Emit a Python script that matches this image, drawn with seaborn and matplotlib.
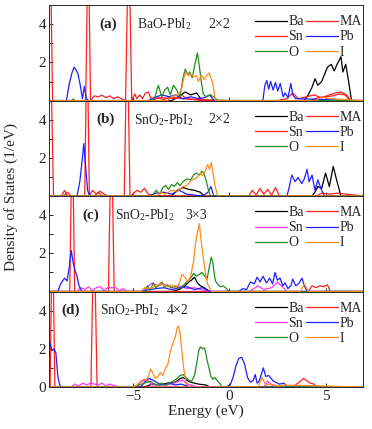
import matplotlib
matplotlib.use("Agg")
import matplotlib.pyplot as plt
import seaborn as sns

# ---- panel (a) BaO-PbI2 2x2 ----
a_ba_x = [-9.4, -3.0, -2.6, -2.3, -2.0, -1.7, -1.4, 3.9, 4.1, 4.3, 4.46, 4.6, 4.8, 5.0, 5.1, 5.3, 5.45, 5.6, 5.8, 5.9, 6.05, 6.2, 6.35, 7.0]
a_ba_y = [0, 0, 0.2, 0.45, 0.3, 0.4, 0, 0, 0.3, 0.7, 1.15, 0.8, 1.0, 1.5, 1.75, 1.9, 1.55, 1.9, 2.3, 1.5, 1.9, 1.0, 0, 0]
a_ma_x = [-9.4, -9.3, -9.17, -7.45, -7.32, -7.2, -7.0, -6.8, -6.6, -6.4, -6.2, -6.0, -5.8, -5.6, -5.38, -5.22, -5.06, -4.9, -4.8, -4.65, -4.5, -4.35, -4.2, -4.05, -3.5, -2.8, -2.5, -2.2, -1.5, 2.5, 3.0, 3.3, 3.6, 4.0, 4.4, 4.8, 5.2, 5.5, 5.8, 6.1, 6.3, 7.0]
a_ma_y = [9, 9, 0, 0, 9, 0, 0.25, 0.2, 0.28, 0.15, 0.25, 0.1, 0.2, 0.1, 0, 9, 0, 0.35, 0.1, 0.3, 0.1, 0.4, 0.45, 0.1, 0.15, 0.1, 0.3, 0.1, 0, 0, 0.1, 0.4, 0.1, 0.2, 0.3, 0.15, 0.3, 0.4, 0.45, 0.3, 0, 0]
a_sn_x = [-9.4, -4.0, -3.7, -3.4, -3.0, -2.5, 0, 4.2, 4.6, 5.0, 5.4, 5.7, 6.0, 6.3, 7.0]
a_sn_y = [0, 0, 0.15, 0.05, 0.2, 0.1, 0, 0, 0.15, 0.2, 0.25, 0.35, 0.3, 0, 0]
a_pb_x = [-9.4, -8.45, -8.3, -8.15, -8.05, -7.95, -7.85, -7.75, -7.62, -7.52, -7.42, -7.3, -4.2, -3.9, -3.5, -3.1, -2.8, -2.4, -2.0, -1.6, -1.3, -1.0, -0.8,
          1.75, 1.85, 1.95, 2.05, 2.15, 2.28, 2.4, 2.52, 2.65, 2.8, 2.9, 3.05, 3.2, 3.3, 3.45, 7.0]
a_pb_y = [0, 0, 0.9, 1.5, 1.75, 1.6, 1.4, 0.9, 0.1, 0.75, 0.1, 0, 0, 0.15, 0.3, 0.2, 0.3, 0.1, 0.2, 0.1, 0.15, 0.3, 0,
          0, 0.8, 1.05, 0.6, 1.0, 0.55, 0.95, 0.5, 0.9, 0.2, 0.4, 0.15, 0.9, 0.3, 0.1, 0]
a_o_x = [-9.4, -8.2, -8.1, -8.0, -4.0, -3.85, -3.68, -3.5, -3.35, -3.2, -3.05, -2.9, -2.75, -2.55, -2.4, -2.28, -2.15, -2.05, -1.92, -1.78, -1.65, -1.55, -1.45, -1.35, -1.2, -1.0, -0.8, -0.6, 7.0]
a_o_y = [0, 0, 0.08, 0, 0, 0.2, 0.8, 0.2, 0.55, 0.7, 0.3, 0.8, 0.6, 0.2, 1.2, 1.65, 1.35, 1.5, 1.2, 1.9, 2.5, 1.8, 1.0, 0.35, 0.2, 0.3, 0.2, 0, 0]
a_i_x = [-9.4, -3.2, -3.0, -2.7, -2.5, -2.35, -2.25, -2.1, -2.0, -1.85, -1.7, -1.6, -1.45, -1.3, -1.18, -1.05, -0.95, -0.85, -0.72, 4.5, 4.8, 5.2, 7.0]
a_i_y = [0, 0, 0.2, 0.3, 0.5, 1.2, 1.5, 1.3, 1.4, 1.25, 1.3, 1.0, 1.35, 1.1, 1.3, 1.45, 1.2, 0.9, 0, 0, 0.2, 0.1, 0]

# ---- panel (b) SnO2-PbI2 2x2 ----
b_ba_x = [-9.4, -3.0, -2.7, -2.4, -2.1, -1.8, -1.5, -1.3, 4.3, 4.45, 4.6, 4.8, 5.0, 5.2, 5.4, 5.6, 5.8, 7.0]
b_ba_y = [0, 0, 0.3, 0.45, 0.35, 0.3, 0.2, 0, 0, 0.2, 0.5, 0.4, 1.2, 0.5, 1.55, 0.75, 0, 0]
b_ma_x = [-9.4, -9.3, -9.12, -8.6, -8.4, -8.2, -7.5, -7.38, -7.26, -7.1, -6.9, -6.7, -6.5, -6.3, -5.45, -5.3, -5.15, -5.0, -4.8, -4.6, -4.4, -4.2, -3.8,
          1.0, 1.2, 1.4, 1.6, 1.8, 2.0, 2.2, 2.4, 2.6, 4.5, 4.8, 5.2, 5.6, 7.0]
b_ma_y = [9, 9, 0, 0, 0.2, 0, 0, 9, 0, 0.3, 0.1, 0.25, 0.1, 0, 0, 9, 0, 0.1, 0.3, 0.2, 0.4, 0.1, 0,
          0, 0.3, 0.05, 0.4, 0.1, 0.35, 0.05, 0.45, 0, 0, 0.15, 0.1, 0.15, 0]
b_sn_x = [-9.4, -8.7, -8.55, -8.4, -7.0, -6.8, -6.6, 7.0]
b_sn_y = [0, 0, 0.3, 0, 0, 0.2, 0, 0]
b_pb_x = [-9.4, -7.9, -7.75, -7.62, -7.55, -7.45, -7.35, -7.25, -4.2, -3.8, -3.4, -3.0, -2.6, -2.2, -1.4, -1.1, -0.95, -0.8,
          3.0, 3.1, 3.25, 3.42, 3.58, 3.77, 3.9, 4.04, 4.15, 4.3, 4.45, 4.6, 4.8, 4.95, 7.0]
b_pb_y = [0, 0, 0.8, 2.0, 2.75, 1.5, 0.3, 0, 0, 0.15, 0.2, 0.1, 0.3, 0.1, 0, 0.2, 0.5, 0,
          0, 0.4, 1.1, 0.75, 0.97, 0.65, 0.9, 1.4, 0.75, 1.1, 0.3, 0.85, 0.3, 0, 0]
b_o_x = [-9.4, -4.0, -3.8, -3.6, -3.45, -3.3, -3.15, -3.0, -2.85, -2.7, -2.55, -2.4, -2.2, -2.0, -1.85, -1.7, -1.55, -1.42, -1.32, -1.22, -1.1, -0.98, 7.0]
b_o_y = [0, 0, 0.3, 0.1, 0.45, 0.55, 0.35, 0.6, 0.5, 0.7, 0.55, 0.75, 0.9, 0.85, 1.1, 1.2, 1.1, 1.3, 1.2, 0.9, 0.4, 0, 0]
b_i_x = [-9.4, -3.8, -3.6, -3.3, -3.0, -2.7, -2.4, -2.2, -2.0, -1.8, -1.65, -1.5, -1.38, -1.25, -1.12, -1.02, -0.93, -0.85, -0.75, -0.6, 7.0]
b_i_y = [0, 0, 0.2, 0.1, 0.3, 0.25, 0.5, 0.55, 0.8, 0.9, 1.0, 1.2, 1.05, 1.3, 1.65, 1.4, 1.75, 1.3, 0.6, 0, 0]

# ---- panel (c) SnO2-PbI2 3x3 ----
c_ba_x = [-9.4, -3.0, -2.6, -2.3, -2.1, -1.95, -1.8, -1.65, -1.5, -1.3, -1.0, 7.0]
c_ba_y = [0, 0, 0.1, 0.3, 0.5, 0.6, 0.75, 0.45, 0.3, 0.2, 0, 0]
c_ma_x = [-9.4, -8.28, -8.15, -8.02, -6.27, -6.12, -5.97, 4.1, 4.3, 4.5, 4.7, 4.9, 5.1, 5.25, 7.0]
c_ma_y = [0, 0, 9, 0, 0, 9, 0, 0, 0.3, 0.2, 0.3, 0.25, 0.35, 0, 0]
c_sn_x = [-9.4, -7.9, -7.7, -7.5, -7.3, -7.1, -6.9, -6.7, -6.5, -6.3, -5.9, -5.7, -5.5, -5.3, -4.5, -4.3, -4.0, -3.7, -3.4, -3.0, -2.6, -2.2, -1.8, -1.5, -1.0,
          1.0, 1.2, 1.5, 1.8, 2.2, 2.5, 2.8, 3.0, 7.0]
c_sn_y = [0, 0, 0.2, 0.1, 0.25, 0.05, 0.2, 0.25, 0.05, 0.2, 0.2, 0.05, 0.15, 0, 0, 0.2, 0.45, 0.3, 0.4, 0.2, 0.3, 0.15, 0.2, 0.1, 0,
          0, 0.1, 0.3, 0.1, 0.2, 0.5, 0.2, 0, 0]
c_pb_x = [-9.4, -8.9, -8.75, -8.55, -8.42, -8.3, -8.2, -8.1, -8.0, -7.9, -7.8, -7.65, -4.5, -4.2, -3.8, -3.4, -3.0, -2.6, -2.2, -1.8, -1.4, -1.0,
          0.5, 0.7, 0.9, 1.1, 1.3, 1.45, 1.6, 1.76, 1.93, 2.1, 2.25, 2.38, 2.5, 2.64, 2.78, 2.9, 3.05, 3.2, 3.3, 3.45, 3.6, 3.78, 3.9, 4.05, 7.0]
c_pb_y = [0, 0, 0.4, 0.7, 0.55, 1.3, 2.15, 1.5, 1.1, 0.8, 0.3, 0, 0, 0.1, 0.15, 0.2, 0.1, 0.2, 0.25, 0.1, 0.2, 0,
          0, 0.15, 0.1, 0.5, 0.4, 0.75, 0.5, 0.8, 0.45, 0.7, 0.4, 1.0, 0.6, 0.7, 0.3, 0.45, 0.15, 0.3, 0.65, 0.3, 0.4, 0.7, 0.3, 0, 0]
c_o_x = [-9.4, -4.4, -4.25, -4.1, -3.95, -3.8, -3.65, -3.5, -3.35, -3.2, -3.0, -2.8, -2.6, -2.4, -2.2, -2.0, -1.85, -1.7, -1.55, -1.42, -1.3, -1.15, -1.05,
         -0.93, -0.85, -0.72, -0.6, -0.47, -0.3, -0.1, 0.0, 7.0]
c_o_y = [0, 0, 0.3, 0.05, 0.45, 0.2, 0.35, 0.5, 0.2, 0.35, 0.2, 0.3, 0.15, 0.3, 0.5, 0.7, 0.95, 0.8, 0.9, 1.0, 0.85, 0.65, 1.2,
         1.8, 1.5, 0.55, 0.4, 0.25, 0.3, 0.1, 0, 0]
c_i_x = [-9.4, -4.6, -4.4, -4.1, -3.8, -3.5, -3.2, -3.0, -2.8, -2.6, -2.45, -2.3, -2.15, -2.0, -1.85, -1.75, -1.65, -1.55, -1.45, -1.35, -1.24, -1.12, -1.0, -0.9,
         3.7, 3.9, 4.1, 7.0]
c_i_y = [0, 0, 0.2, 0.15, 0.3, 0.4, 0.25, 0.35, 0.2, 0.4, 0.9, 0.75, 0.5, 0.8, 1.6, 2.5, 3.1, 3.55, 2.6, 1.8, 1.0, 0.4, 0.15, 0,
         0, 0.4, 0, 0]

# ---- panel (d) SnO2-PbI2 4x2 ----
d_ba_x = [-9.4, -4.4, -4.0, -3.6, -3.2, -2.8, -2.6, -2.4, -2.2, -2.0, -1.6, -1.2, -1.0, 7.0]
d_ba_y = [0, 0, 0.15, 0.1, 0.2, 0.25, 0.4, 0.5, 0.35, 0.25, 0.15, 0.1, 0, 0]
d_ma_x = [-9.4, -9.3, -9.18, -9.05, -7.18, -7.02, -6.86, 3.3, 3.5, 3.7, 3.85, 4.0, 4.2, 4.4, 4.55, 7.0]
d_ma_y = [0, 0, 9, 0, 0, 9, 0, 0, 0.15, 0.3, 0.45, 0.35, 0.2, 0.15, 0, 0]
d_sn_x = [-9.4, -8.2, -8.0, -7.8, -7.6, -7.4, -7.2, -6.8, -6.6, -6.4, -6.2, -5.9, -5.6, -4.8, -4.6, -4.4, -4.2, -4.0, -3.6, -3.2, -2.9, -2.6, -2.4, -2.2, -2.0, -1.6,
          1.8, 2.0, 2.2, 2.4, 7.0]
d_sn_y = [0, 0, 0.15, 0.05, 0.2, 0.1, 0.2, 0.1, 0.2, 0.05, 0.15, 0.05, 0, 0, 0.25, 0.35, 0.3, 0.1, 0.15, 0.1, 0.2, 0.3, 0.35, 0.15, 0.1, 0,
          0, 0.3, 0.1, 0, 0]
d_pb_x = [-9.4, -9.3, -9.2, -9.1, -9.0, -8.9, -8.8, -8.7, -4.6, -4.35, -4.15, -3.95, -3.7, -3.4, -3.1, -2.8, -2.5, -2.0,
          -0.2, 0.05, 0.2, 0.35, 0.5, 0.65, 0.8, 0.95, 1.1, 1.25, 1.35, 1.45, 1.55, 1.65, 1.77, 1.9, 2.05, 2.3, 2.6, 2.85, 3.0, 7.0]
d_pb_y = [2.0, 2.3, 1.9, 2.0, 1.8, 0.6, 0.1, 0, 0, 0.3, 0.45, 0.35, 0.2, 0.1, 0.2, 0.1, 0.15, 0,
          0, 0.1, 0.5, 1.1, 1.5, 1.55, 1.2, 0.5, 0.25, 0.35, 0.65, 0.2, 0.3, 0.6, 1.0, 0.55, 0.6, 0.3, 0.15, 0.2, 0, 0]
d_o_x = [-9.4, -4.9, -4.7, -4.4, -4.1, -3.8, -3.5, -3.3, -3.1, -2.9, -2.7, -2.55, -2.4, -2.25, -2.1, -1.95, -1.8, -1.68, -1.58, -1.5, -1.4, -1.3, -1.24,
         -1.15, -1.05, -0.95, -0.85, -0.75, -0.63, -0.5, -0.37, 7.0]
d_o_y = [0, 0, 0.1, 0.2, 0.3, 0.1, 0.2, 0.1, 0.2, 0.3, 0.45, 0.6, 0.65, 0.5, 0.35, 0.3, 0.6, 1.3, 1.9, 2.1, 2.0, 2.05, 1.9,
         1.4, 1.0, 0.55, 0.4, 0.5, 0.35, 0.2, 0, 0]
d_i_x = [-9.4, -5.0, -4.8, -4.6, -4.45, -4.3, -4.18, -4.08, -3.95, -3.83, -3.7, -3.57, -3.45, -3.3, -3.18, -3.05, -2.92, -2.8, -2.7, -2.63, -2.55, -2.45, -2.35,
         -2.25, -2.1, 1.5, 1.7, 1.9, 2.2, 2.5, 2.8, 7.0]
d_i_y = [0, 0, 0.1, 0.3, 0.4, 0.35, 0.6, 0.95, 0.7, 0.45, 0.55, 0.75, 0.6, 1.0, 1.2, 1.9, 2.3, 2.6, 3.1, 3.2, 2.8, 1.8, 0.9,
         0.3, 0, 0, 0.5, 0.1, 0.15, 0.05, 0.1, 0]

tags = ["(a)", "(b)", "(c)", "(d)"]
systems = ["BaO-PbI$_\\mathregular{2}$", "SnO$_\\mathregular{2}$-PbI$_\\mathregular{2}$",
           "SnO$_\\mathregular{2}$-PbI$_\\mathregular{2}$", "SnO$_\\mathregular{2}$-PbI$_\\mathregular{2}$"]
cells = ["2\u00d72", "2\u00d72", "3\u00d73", "4\u00d72"]
species = ["Ba", "MA", "Sn", "Pb", "O", "I"]

sns.set_style("ticks")
plt.rcParams["font.family"] = ["Liberation Serif", "DejaVu Serif"]
plt.rcParams["mathtext.fontset"] = "stix"

panels = [
    [(a_ba_x, a_ba_y), (a_ma_x, a_ma_y), (a_sn_x, a_sn_y), (a_pb_x, a_pb_y), (a_o_x, a_o_y), (a_i_x, a_i_y)],
    [(b_ba_x, b_ba_y), (b_ma_x, b_ma_y), (b_sn_x, b_sn_y), (b_pb_x, b_pb_y), (b_o_x, b_o_y), (b_i_x, b_i_y)],
    [(c_ba_x, c_ba_y), (c_ma_x, c_ma_y), (c_sn_x, c_sn_y), (c_pb_x, c_pb_y), (c_o_x, c_o_y), (c_i_x, c_i_y)],
    [(d_ba_x, d_ba_y), (d_ma_x, d_ma_y), (d_sn_x, d_sn_y), (d_pb_x, d_pb_y), (d_o_x, d_o_y), (d_i_x, d_i_y)],
]

fig, axes = plt.subplots(4, 1, figsize=(3.72, 4.29), dpi=100, sharex=True)
fig.subplots_adjust(left=0.132, right=0.976, top=0.988, bottom=0.098, hspace=0)

# text positions (axes fraction) for each panel
tag_x = [0.16, 0.15, 0.105, 0.04]
sys_x = [0.28, 0.27, 0.21, 0.162]
cell_x = [0.506, 0.506, 0.433, 0.375]

for k, ax in enumerate(axes):
    sn_color = "#ff2020" if k < 2 else "#ff33ff"
    colors = ["#000000", "#ff2020", sn_color, "#1f1fff", "#1f8f1f", "#ff8c1a"]
    for (xs, ys), name, col in zip(panels[k], species, colors):
        sns.lineplot(x=xs, y=ys, ax=ax, color=col, lw=0.9, sort=False,
                     estimator=None, label=name, legend=False)
    ax.set_xlim(-9.35, 6.95)
    ax.set_ylim(0, 5)
    ax.set_xticks([-5, 0, 5])
    ax.set_yticks([0, 1, 2, 3, 4])
    if k == 3:
        ax.set_yticklabels(["0", "", "2", "", "4"])
    else:
        ax.set_yticklabels(["", "", "2", "", "4"])
    ax.tick_params(direction="in", length=3, width=0.7, labelsize=11, pad=2)
    for s in ax.spines.values():
        s.set_linewidth(0.7)
    ax.text(tag_x[k], 0.8, tags[k], transform=ax.transAxes, fontsize=11,
            fontweight="bold", va="center")
    ax.text(sys_x[k], 0.8, systems[k], transform=ax.transAxes, fontsize=9.8, va="center")
    ax.text(cell_x[k], 0.8, cells[k], transform=ax.transAxes, fontsize=10, va="center")
    h, l = ax.get_legend_handles_labels()
    lookup = dict(zip(l, h))
    order = ["Ba", "Sn", "O", "MA", "Pb", "I"]
    ax.legend([lookup[n] for n in order], order, ncol=2, loc="upper left",
              bbox_to_anchor=(0.63, 0.98), frameon=False, fontsize=10,
              handlelength=2.3, handletextpad=0.1, columnspacing=0.15,
              labelspacing=0.15, borderpad=0.1)

axes[3].set_xlabel("Energy (eV)", fontsize=11, labelpad=1)
fig.text(0.03, 0.54, "Density of States (1/eV)", rotation=90, fontsize=11,
         ha="center", va="center")

fig.savefig("out.png", dpi=100)
